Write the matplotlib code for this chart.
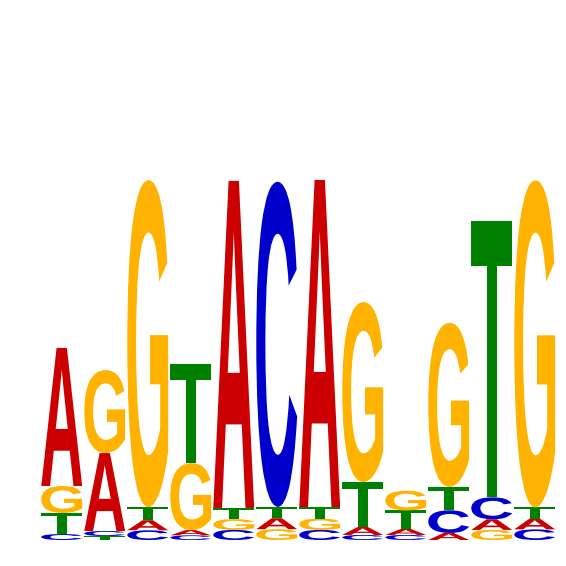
import matplotlib
matplotlib.use("Agg")
import matplotlib.pyplot as plt
from matplotlib.font_manager import FontProperties
from matplotlib.patches import PathPatch
from matplotlib.textpath import TextPath
from matplotlib.transforms import Affine2D

# information content (bits) per letter at each of the 12 positions
letters = ["A", "C", "G", "T"]
height_a = [0.767, 0.433, 0.056, 0.029, 1.817, 0.061, 1.817, 0.044, 0.033, 0.039, 0.059, 0.060]
height_c = [0.033, 0.028, 0.054, 0.026, 0.056, 1.806, 0.056, 0.028, 0.028, 0.126, 0.122, 0.059]
height_g = [0.150, 0.461, 1.817, 0.372, 0.060, 0.060, 0.063, 1.000, 0.110, 0.911, 0.056, 1.817]
height_t = [0.117, 0.022, 0.072, 0.550, 0.062, 0.063, 0.064, 0.250, 0.103, 0.130, 1.533, 0.062]

colors = {"A": "#CC0000", "C": "#0000CC", "G": "#FFB300", "T": "#008000"}
font = FontProperties(family="Liberation Sans", weight="bold")


def draw_letter(ax, char, x0, y0, width, height):
    path = TextPath((0, 0), char, size=100, prop=font)
    ext = path.get_extents()
    tr = (Affine2D()
          .translate(-ext.x0, -ext.y0)
          .scale(width / ext.width, height / ext.height)
          .translate(x0, y0))
    ax.add_patch(PathPatch(tr.transform_path(path), facecolor=colors[char],
                           edgecolor="none"))


fig = plt.figure(figsize=(5.66, 5.66), dpi=100)
ax = fig.add_axes([0, 0, 1, 1])
ax.set_axis_off()

heights = list(zip(height_a, height_c, height_g, height_t))
for pos, col in enumerate(heights):
    stack = sorted(zip(col, letters))
    y = 0.0
    for h, ch in stack:
        draw_letter(ax, ch, pos + 0.03, y, 0.95, h)
        y += h

# 43 px per column, first column at x=40 px, baseline 26 px above bottom
ax.set_xlim(-40 / 43, 526 / 43)
ax.set_ylim(-26 / 180, 540 / 180)
fig.savefig("out.png", dpi=100)
